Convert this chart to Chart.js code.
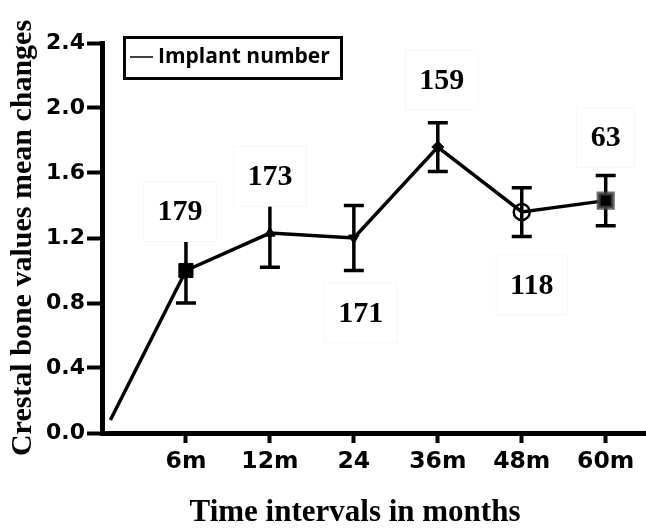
<!DOCTYPE html>
<html>
<head>
<meta charset="utf-8">
<script src="https://cdn.jsdelivr.net/npm/chart.js@4.4.1/dist/chart.umd.min.js"></script>
<style>
  html, body { margin: 0; padding: 0; background: #fff; overflow: hidden; }
  canvas { display: block; }
</style>
</head>
<body>
<canvas id="line-chart" width="646" height="530"></canvas>
<script>
// data (x = interval index, first point is where the curve starts)
var months = [0.1, 1, 2, 3, 4, 5, 6];
var tickLabels = ["6m", "12m", "24", "36m", "48m", "60m"];
var meanChange = [0.08, 1.0, 1.23, 1.2, 1.76, 1.36, 1.43];
var errSize = [0, 0.2, 0.21, 0.2, 0.15, 0.15, 0.155];
var implantN = ["", "179", "173", "171", "159", "118", "63"];
var yTicks = [0, 0.4, 0.8, 1.2, 1.6, 2.0, 2.4];

// where the n labels sit relative to their point (pixels)
var labelDx = [0, -6, 0, 7, 4, 10, 0];
var labelDy = [0, -59, -57, 75, -67, 73, -63];

var black = '#000';
var serif = "'Liberation Serif', 'Times New Roman', serif";
var sans = "'DejaVu Sans', Arial, sans-serif";

var errorBars = {
  id: 'errorBars',
  beforeDatasetsDraw: function(chart) {
    var ctx = chart.ctx, xs = chart.scales.x, ys = chart.scales.y;
    ctx.save();
    ctx.strokeStyle = black;
    ctx.lineWidth = 3.5;
    for (var i = 1; i < months.length; i++) {
      var x = xs.getPixelForValue(months[i]);
      var top = ys.getPixelForValue(meanChange[i] + errSize[i]);
      var bot = ys.getPixelForValue(meanChange[i] - errSize[i]);
      ctx.beginPath();
      ctx.moveTo(x, top); ctx.lineTo(x, bot);
      ctx.moveTo(x - 10, top); ctx.lineTo(x + 10, top);
      ctx.moveTo(x - 10, bot); ctx.lineTo(x + 10, bot);
      ctx.stroke();
    }
    ctx.restore();
  }
};

var nLabels = {
  id: 'nLabels',
  afterDatasetsDraw: function(chart) {
    var ctx = chart.ctx, xs = chart.scales.x, ys = chart.scales.y;
    ctx.save();
    ctx.font = 'bold 30px ' + serif;
    ctx.textAlign = 'center';
    ctx.textBaseline = 'middle';
    for (var i = 1; i < months.length; i++) {
      var x = xs.getPixelForValue(months[i]) + labelDx[i];
      var y = ys.getPixelForValue(meanChange[i]) + labelDy[i];
      var w = ctx.measureText(implantN[i]).width + 28;
      ctx.fillStyle = '#fff';
      ctx.fillRect(x - w / 2, y - 30, w, 60);
      ctx.strokeStyle = '#f7f7f7';
      ctx.lineWidth = 1;
      ctx.strokeRect(x - w / 2, y - 30, w, 60);
      ctx.fillStyle = black;
      ctx.fillText(implantN[i], x, y + 1);
    }
    ctx.restore();
  },
  afterDraw: function(chart) {
    var ctx = chart.ctx;
    ctx.save();
    // legend box
    ctx.strokeStyle = black;
    ctx.lineWidth = 3;
    ctx.strokeRect(124.5, 37.5, 217, 41);
    ctx.lineWidth = 1.5;
    ctx.beginPath();
    ctx.moveTo(130, 57); ctx.lineTo(153, 57);
    ctx.stroke();
    ctx.fillStyle = black;
    ctx.font = "bold 21px 'Open Sans', sans-serif";
    ctx.textBaseline = 'middle';
    ctx.fillText('Implant number', 158, 57);
    // x axis title
    ctx.font = 'bold 31px ' + serif;
    ctx.textAlign = 'center';
    ctx.fillText('Time intervals in months', 355, 513);
    ctx.restore();
  }
};

var lineChart = new Chart(document.getElementById('line-chart'), {
  type: 'line',
  data: {
    datasets: [{
      label: 'Implant number',
      data: months.map(function(m, i) { return {x: m, y: meanChange[i]}; }),
      borderColor: black,
      borderWidth: 3.5,
      tension: 0,
      pointStyle: ['circle', 'rect', 'triangle', 'triangle', 'rectRot', 'circle', 'rect'],
      rotation: [0, 0, 0, 180, 0, 0, 0],
      pointRadius: [0, 10, 6, 6, 6, 8, 10],
      pointBackgroundColor: [black, black, black, black, black, 'rgba(0,0,0,0)', black],
      pointBorderColor: [black, black, black, black, black, black, 'rgba(70,70,70,0.8)'],
      pointBorderWidth: [0, 1, 1, 1, 1, 2.5, 4],
      clip: false
    }]
  },
  plugins: [errorBars, nLabels],
  options: {
    responsive: false,
    animation: false,
    layout: { autoPadding: false, padding: { top: 43, right: 0, left: 0, bottom: 0 } },
    plugins: {
      legend: { display: false },
      tooltip: { enabled: false }
    },
    scales: {
      x: {
        type: 'linear',
        min: 0,
        max: 6.48,
        afterBuildTicks: function(scale) {
          scale.ticks = tickLabels.map(function(l, i) { return {value: i + 1}; });
        },
        afterFit: function(scale) {
          scale.height = 97;
          scale.paddingRight = 0;
          scale.paddingLeft = 0;
        },
        ticks: {
          color: black,
          font: { family: sans, size: 23.5, weight: 'bold' },
          padding: 5,
          maxRotation: 0,
          callback: function(v) { return tickLabels[v - 1]; }
        },
        grid: { drawOnChartArea: false, tickLength: 10, tickWidth: 4, color: black },
        border: { color: black, width: 5 }
      },
      y: {
        min: 0,
        max: 2.4,
        afterBuildTicks: function(scale) {
          scale.ticks = yTicks.map(function(v) { return {value: v}; });
        },
        afterFit: function(scale) { scale.width = 102; },
        ticks: {
          color: black,
          font: { family: sans, size: 22, weight: 'bold' },
          padding: 2,
          callback: function(v) { return v.toFixed(1); }
        },
        grid: { drawOnChartArea: false, tickLength: 15, tickWidth: 4, color: black },
        border: { color: black, width: 5 },
        title: {
          display: true,
          text: 'Crestal bone values mean changes',
          color: black,
          font: { family: serif, size: 30, weight: 'bold' },
          padding: { top: 5, bottom: 0 }
        }
      }
    }
  }
});
</script>
</body>
</html>
